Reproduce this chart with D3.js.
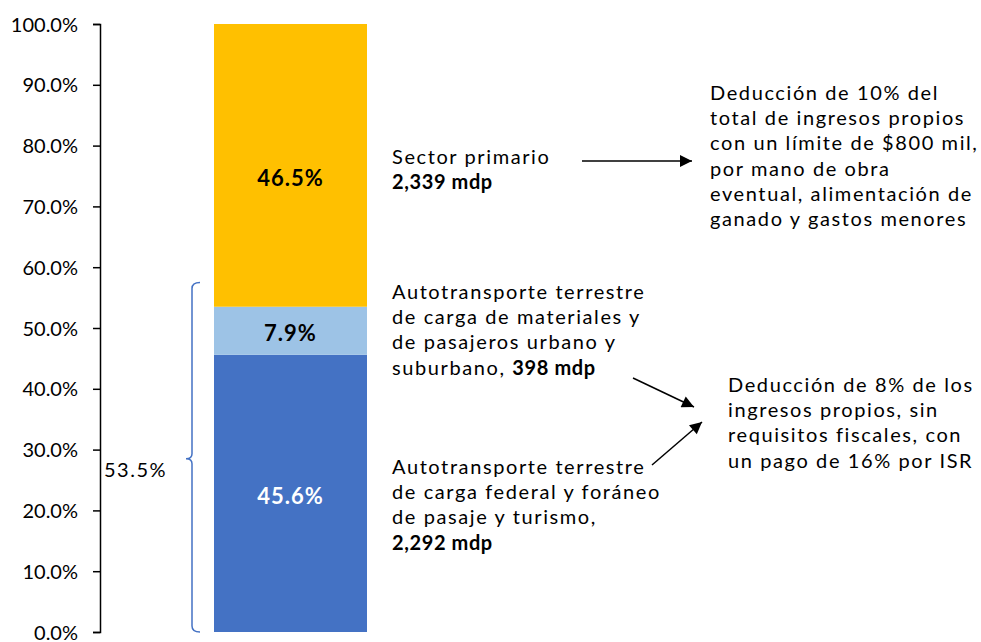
<!DOCTYPE html>
<html>
<head>
<meta charset="utf-8">
<script src="https://cdn.jsdelivr.net/npm/d3@7"></script>
<style>
  body { margin: 0; background: #fff; }
  text { font-family: Lato, "Open Sans", sans-serif; fill: #000; }
</style>
</head>
<body>
<script>
// data
var segments = ["Autotransporte federal", "Autotransporte urbano", "Sector primario"];
var shares = [45.6, 7.9, 46.5];
var colors = ["#4472c4", "#9dc3e6", "#ffc000"];
var labelColors = ["#fff", "#000", "#000"];
var yTicks = [0, 10, 20, 30, 40, 50, 60, 70, 80, 90, 100];
var braceRange = [0, 57.5];
var braceLabel = "53.5%";

var notes = [
  { lines: [["Sector primario"], [["2,339 mdp", true]]], x: 392, y: 157 },
  { lines: [["Autotransporte terrestre"], ["de carga de materiales y"], ["de pasajeros urbano y"], ["suburbano, ", ["398 mdp", true]]], x: 392, y: 292 },
  { lines: [["Autotransporte terrestre"], ["de carga federal y foráneo"], ["de pasaje y turismo,"], [["2,292 mdp", true]]], x: 392, y: 467 },
  { lines: [["Deducción de 10% del"], ["total de ingresos propios"], ["con un límite de $800 mil,"], ["por mano de obra"], ["eventual, alimentación de"], ["ganado y gastos menores"]], x: 710, y: 93 },
  { lines: [["Deducción de 8% de los"], ["ingresos propios, sin"], ["requisitos fiscales, con"], ["un pago de 16% por ISR"]], x: 728, y: 385 }
];

var arrows = [
  [[582, 161], [692, 161]],
  [[633, 378], [694, 407]],
  [[652, 465], [702, 422]]
];

var w = 981, h = 642;
var svg = d3.select("body").append("svg").attr("width", w).attr("height", h);

var defs = svg.append("defs");
defs.append("marker").attr("id", "head")
  .attr("viewBox", "0 0 10 10").attr("refX", 10).attr("refY", 5)
  .attr("markerWidth", 14).attr("markerHeight", 12).attr("markerUnits", "userSpaceOnUse")
  .attr("orient", "auto")
  .append("path").attr("d", "M0,0 L10,5 L0,10 z").attr("fill", "#000");

var y = d3.scaleLinear().domain([0, 100]).range([632, 24]);
var x = d3.scaleBand().domain(["bar"]).range([214, 367]).padding(0);

// axis
var axis = d3.axisLeft(y).tickValues(yTicks).tickSize(7).tickFormat(function(d){ return d.toFixed(1) + "%"; });
var ga = svg.append("g").attr("transform", "translate(100,0)").call(axis);
ga.select(".domain").attr("stroke", "#000").attr("stroke-width", 1.5);
ga.selectAll(".tick line").attr("stroke", "#000").attr("stroke-width", 1.5);
ga.selectAll(".tick text").attr("x", -22).attr("dy", "0.35em")
  .style("font-size", "20px").style("font-family", "Lato, sans-serif").attr("fill", "#000");

// stacked bar
var stack = [];
var acc = 0;
shares.forEach(function(v, i){ stack.push({ name: segments[i], v: v, y0: acc, y1: acc + v, i: i }); acc += v; });

svg.selectAll("rect.seg").data(stack).enter().append("rect")
  .attr("class", "seg")
  .attr("x", x("bar")).attr("width", x.bandwidth())
  .attr("y", function(d){ return y(d.y1); })
  .attr("height", function(d){ return y(d.y0) - y(d.y1); })
  .attr("fill", function(d){ return colors[d.i]; });

svg.selectAll("text.seglab").data(stack).enter().append("text")
  .attr("class", "seglab")
  .attr("x", x("bar") + x.bandwidth() / 2)
  .attr("y", function(d){ return y((d.y0 + d.y1) / 2) + (d.i === 2 ? 13 : 3); })
  .attr("dy", "0.35em")
  .attr("text-anchor", "middle")
  .style("font-size", "22px").style("font-weight", "bold").style("letter-spacing", "1px")
  .style("fill", function(d){ return labelColors[d.i]; })
  .text(function(d){ return d.v.toFixed(1) + "%"; });

// brace
var bTop = y(braceRange[1]), bBot = y(braceRange[0]), bMid = y(28.5);
svg.append("path")
  .attr("d", "M200," + bTop + " Q192," + bTop + " 192," + (bTop + 6) +
    " L192," + (bMid - 5) + " Q192," + bMid + " 186," + bMid +
    " Q192," + bMid + " 192," + (bMid + 5) +
    " L192," + (bBot - 6) + " Q192," + bBot + " 200," + bBot)
  .attr("fill", "none").attr("stroke", "#4472c4").attr("stroke-width", 1.5);
svg.append("text").attr("x", 104).attr("y", 470).attr("dy", "0.35em")
  .style("font-size", "20px").style("letter-spacing", "1.5px").text(braceLabel);

// notes
notes.forEach(function(n){
  var t = svg.append("text").style("font-size", "20px").style("letter-spacing", "1.6px");
  n.lines.forEach(function(line, li){
    var first = true;
    line.forEach(function(part){
      var txt = typeof part === "string" ? part : part[0];
      var bold = typeof part !== "string" && part[1];
      var ts = t.append("tspan").text(txt);
      if (first) ts.attr("x", n.x).attr("y", n.y + li * 25.2).attr("dy", "0.35em");
      if (bold) ts.style("font-weight", "bold").style("letter-spacing", "0.6px");
      first = false;
    });
  });
});

// arrows
svg.selectAll("line.arrow").data(arrows).enter().append("line")
  .attr("class", "arrow")
  .attr("x1", function(d){ return d[0][0]; }).attr("y1", function(d){ return d[0][1]; })
  .attr("x2", function(d){ return d[1][0]; }).attr("y2", function(d){ return d[1][1]; })
  .attr("stroke", "#000").attr("stroke-width", 1.5)
  .attr("marker-end", "url(#head)");
</script>
</body>
</html>
